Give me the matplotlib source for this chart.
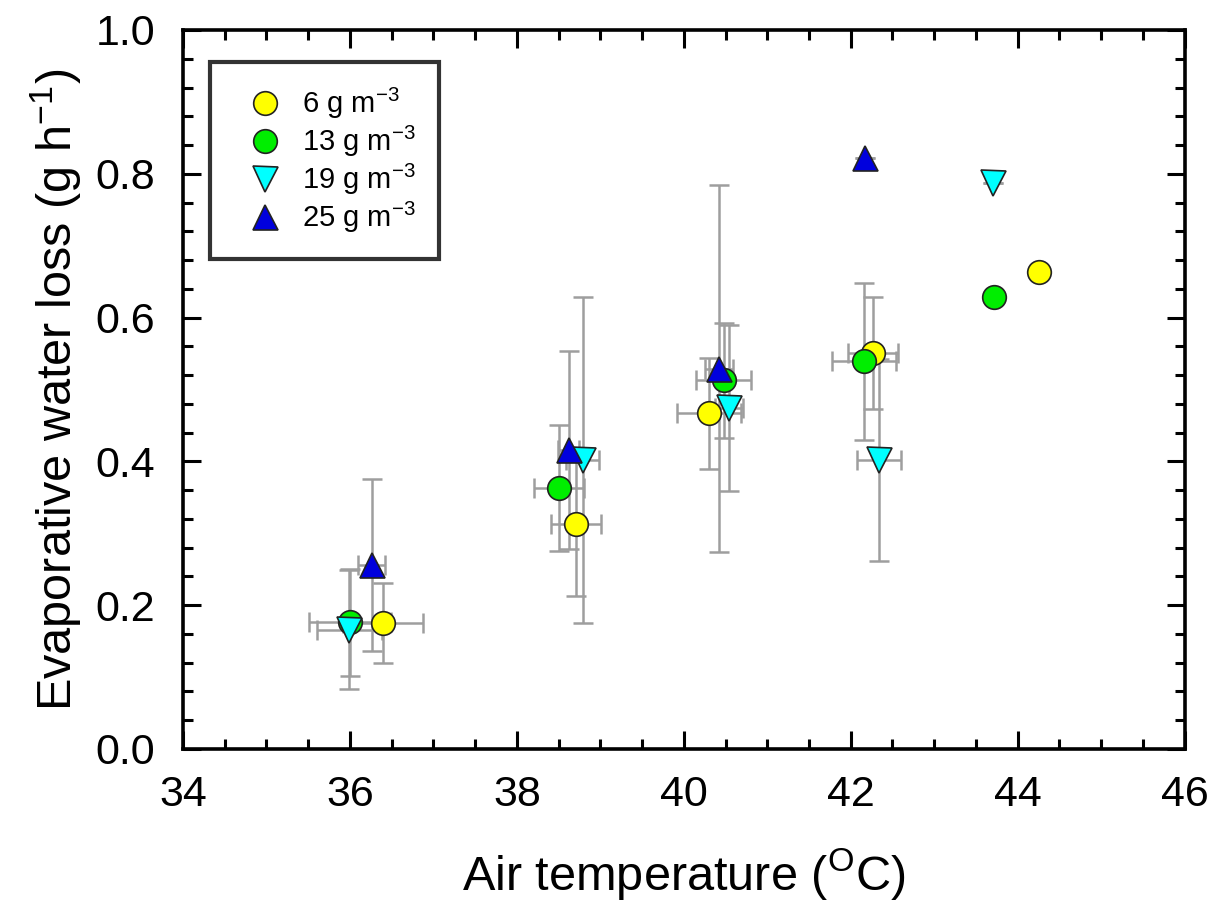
import matplotlib.pyplot as plt
from matplotlib.ticker import MultipleLocator

plt.rcParams["font.family"] = ["Liberation Sans", "DejaVu Sans"]
plt.rcParams["mathtext.fontset"] = "custom"
plt.rcParams["mathtext.rm"] = "Liberation Sans"
plt.rcParams["mathtext.it"] = "Liberation Sans"

# Data: (temperature, loss) with x/y error
labels = ["6 g m$^{-3}$", "13 g m$^{-3}$", "19 g m$^{-3}$", "25 g m$^{-3}$"]

t_6 = [36.40, 38.71, 40.30, 42.27, 44.26]
ewl_6 = [0.175, 0.313, 0.467, 0.551, 0.664]
xerr_6 = [0.48, 0.30, 0.38, 0.30, 0.0]
yerr_6 = [0.056, 0.10, 0.077, 0.078, 0.0]

t_13 = [36.00, 38.51, 40.48, 42.16, 43.72]
ewl_13 = [0.176, 0.363, 0.513, 0.539, 0.628]
xerr_13 = [0.49, 0.30, 0.33, 0.38, 0.0]
yerr_13 = [0.074, 0.087, 0.080, 0.109, 0.0]

t_19 = [35.99, 38.79, 40.54, 42.34, 43.70]
ewl_19 = [0.166, 0.402, 0.474, 0.402, 0.787]
xerr_19 = [0.39, 0.20, 0.17, 0.265, 0.0]
yerr_19 = [0.083, 0.227, 0.115, 0.14, 0.0]

t_25 = [36.26, 38.62, 40.42, 42.17]
ewl_25 = [0.256, 0.416, 0.529, 0.822]
xerr_25 = [0.16, 0.13, 0.17, 0.0]
yerr_25 = [0.12, 0.138, 0.255, 0.0]

series = [
    (t_6, ewl_6, xerr_6, yerr_6, "o", "#FFFF00"),
    (t_13, ewl_13, xerr_13, yerr_13, "o", "#00EE00"),
    (t_19, ewl_19, xerr_19, yerr_19, "v", "#00FFFF"),
    (t_25, ewl_25, xerr_25, yerr_25, "^", "#0000DD"),
]

fig = plt.figure(figsize=(12.15, 9.06), dpi=100)
ax = fig.add_axes([0.1506, 0.1733, 0.8244, 0.7936])

# error bars first, in gray, behind markers
for x, y, xe, ye, m, c in series:
    ax.errorbar(x, y, xerr=xe, yerr=ye, fmt="none", ecolor="#9E9E9E",
                elinewidth=1.8, capsize=7.5, capthick=1.8, zorder=2)

for (x, y, xe, ye, m, c), lab in zip(series, labels):
    ax.plot(x, y, linestyle="none", marker=m, markersize=17 if m == "o" else 18,
            markerfacecolor=c, markeredgecolor="#222222", markeredgewidth=1.2,
            label=lab, zorder=3)

ax.set_xlim(34, 46)
ax.set_ylim(0, 1.0)
ax.xaxis.set_major_locator(MultipleLocator(2))
ax.xaxis.set_minor_locator(MultipleLocator(0.5))
ax.yaxis.set_major_locator(MultipleLocator(0.2))
ax.yaxis.set_minor_locator(MultipleLocator(0.04))
ax.yaxis.set_major_formatter(plt.FormatStrFormatter("%.1f"))

ax.tick_params(which="both", direction="in", top=True, right=True, width=2.2,
               labelsize=31)
ax.tick_params(axis="x", which="major", length=13, pad=19)
ax.tick_params(axis="y", which="major", length=13, pad=20)
ax.tick_params(which="minor", length=7)
for s in ax.spines.values():
    s.set_linewidth(2.6)

ax.set_xlabel("Air temperature ($^{\\mathrm{O}}$C)", fontsize=35, labelpad=22)
ax.set_ylabel("Evaporative water loss (g h$^{-1}$)", fontsize=35, labelpad=8)

leg = ax.legend(loc="upper left", bbox_to_anchor=(0.027, 0.955), fontsize=21,
                frameon=True, fancybox=False, edgecolor="black",
                borderpad=0.8, labelspacing=0.1, handlelength=2.2,
                handletextpad=0.15, borderaxespad=0.0)
leg.get_frame().set_linewidth(3.0)

fig.savefig("out.png", dpi=100)
